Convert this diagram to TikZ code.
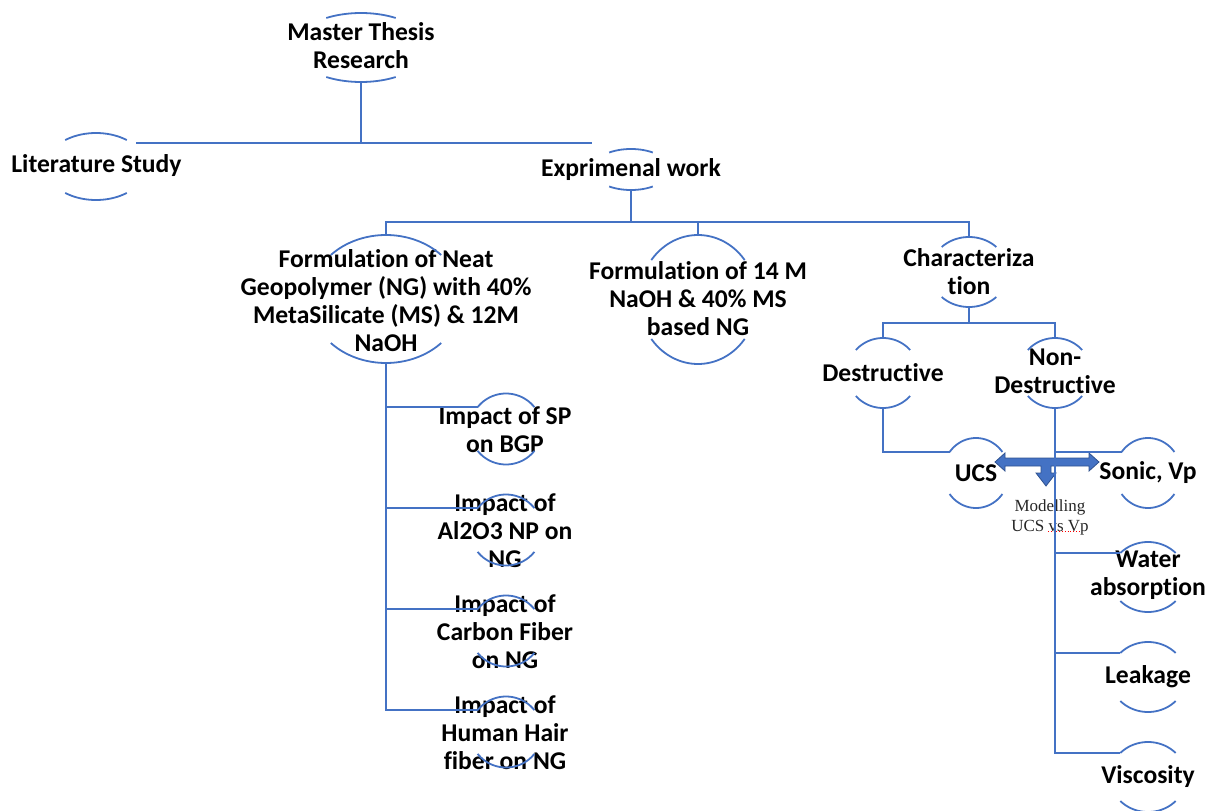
\documentclass[tikz,border=0pt]{standalone}
\usepackage{fontspec}
\newfontfamily\carl{Carlito}[Ligatures=NoCommon]
\newfontfamily\tnr{Liberation Serif}[Ligatures=NoCommon]
\usetikzlibrary{calc}
\definecolor{ln}{RGB}{68,114,196}
\definecolor{arrfill}{RGB}{68,114,196}
\definecolor{arrline}{RGB}{47,82,143}
\newcommand\ovl[6]{%
  \coordinate (#1-t) at (#2,{#3-#5});
  \coordinate (#1-b) at (#2,{#3+#5});
  \coordinate (#1-l) at ({#2-#4*cos(#6)},{#3-#5*sin(#6)});
  \coordinate (#1-r) at ({#2+#4*cos(#6)},{#3-#5*sin(#6)});
  \draw[arcl] plot[smooth,domain=#6:180-#6,samples=25] ({#2+#4*cos(\x)},{#3-#5*sin(\x)});
  \draw[arcl] plot[smooth,domain=#6:180-#6,samples=25] ({#2+#4*cos(\x)},{#3+#5*sin(\x)});
}
\begin{document}
\begin{tikzpicture}[x=1pt,y=-1pt,
  txt/.style={inner sep=0pt,align=center,font=\carl\bfseries\fontsize{25.6}{28}\selectfont},
  mdl/.style={inner sep=0pt,align=center,text=black!85,font=\tnr\fontsize{17}{20}\selectfont},
  arcl/.style={draw=ln,line width=1.8pt},
  conn/.style={draw=ln,line width=1.8pt}]
\useasboundingbox (0,0) rectangle (1219,811);
% texts
\node[txt] (master) at (361,45.5) {Master Thesis\\Research};
\node[txt] (lit) at (96.5,166) {Literature Study};
\node[txt] (exp) at (631,170) {Exprimenal work};
\node[txt] (neat) at (386,301) {Formulation of Neat\\Geopolymer (NG) with 40\%\\MetaSilicate (MS) \& 12M\\NaOH};
\node[txt] (f14) at (698,298.5) {Formulation of 14 M\\NaOH \& 40\% MS\\based NG};
\node[txt] (char) at (969,272) {Characteriza\\tion};
\node[txt] (destr) at (883,373) {Destructive};
\node[txt] (nondes) at (1055,371.5) {Non-\\Destructive};
\node[txt] (ucs) at (976,473) {UCS};
\node[txt] (sonic) at (1148,473) {Sonic, Vp};
\node[txt] (water) at (1148,575) {Water\\absorption};
\node[txt] (leak) at (1148,677) {Leakage};
\node[txt] (visc) at (1148,777) {Viscosity};
\node[txt] (sp) at (505,430) {Impact of SP\\on BGP};
\node[txt] (al) at (505,531) {Impact of\\Al2O3 NP on\\NG};
\node[txt] (cf) at (505,632) {Impact of\\Carbon Fiber\\on NG};
\node[txt] (hair) at (505,733) {Impact of\\Human Hair\\fiber on NG};
\node[mdl] (model) at (1050,517) {Modelling\\UCS vs Vp};
\draw[red,dotted,line width=0.8pt] (1048,531) -- (1080,531);
% arcs
\ovl{mst}{361}{47.5}{67}{34.5}{58.8}
\ovl{lts}{96}{166.5}{50}{33.5}{52}
\ovl{exw}{631}{169.5}{39}{20.5}{56}
\ovl{nt}{386}{299}{76}{64}{43.4}
\ovl{ft}{698}{299.5}{59}{64.5}{37.7}
\ovl{ch}{969}{272}{39}{35}{45.6}
\ovl{ds}{883}{373}{36}{35}{41}
\ovl{nd}{1055}{373}{36}{35}{41}
\ovl{uc}{976}{473}{33}{35}{36.9}
\ovl{sv}{1148}{473}{33}{35}{36.9}
\ovl{wa}{1148}{577}{38}{35}{43.3}
\ovl{lk}{1148}{677}{38}{35}{43.3}
\ovl{vs}{1148}{777}{38}{35}{43.3}
\ovl{ip}{506}{429}{36}{35.5}{38}
\ovl{ia}{506}{530}{36}{35.5}{38}
\ovl{ic}{506}{631}{36}{35.5}{38}
\ovl{ih}{506}{732}{36}{35.5}{38}
% block arrow
\filldraw[fill=arrfill,draw=arrline,line width=0.8pt,line join=miter]
  (995,462) -- (1005,453) -- (1005,458) -- (1089,458) -- (1089,453) -- (1099,462)
  -- (1089,471) -- (1089,466) -- (1051,466) -- (1051,473) -- (1056,473) -- (1046,486)
  -- (1036,473) -- (1041,473) -- (1041,466) -- (1005,466) -- (1005,471) -- cycle;
% connectors
\coordinate (j1) at (136,143);
\coordinate (j2) at (592,143);
\draw[conn] (j1) -- (j2);
\draw[conn] (mst-b) -- (mst-b |- j1);
\draw[conn] (exw-b) -- ++(0,32);
\draw[conn] (nt-t) -- ++(0,-13) -| (ch-t);
\draw[conn] (ft-t) -- ++(0,-13);
\draw[conn] (ch-b) -- ++(0,16);
\draw[conn] (ds-t) -- ++(0,-15) -| (nd-t);
\draw[conn] (ds-b) |- (uc-l);
\draw[conn] (nd-b) |- (vs-l);
\draw[conn] (sv-l) -- (sv-l -| nd-b);
\draw[conn] (wa-l) -- (wa-l -| nd-b);
\draw[conn] (lk-l) -- (lk-l -| nd-b);
\draw[conn] (nt-b) |- (ih-l);
\draw[conn] (ip-l) -- (ip-l -| nt-b);
\draw[conn] (ia-l) -- (ia-l -| nt-b);
\draw[conn] (ic-l) -- (ic-l -| nt-b);
\end{tikzpicture}
\end{document}
